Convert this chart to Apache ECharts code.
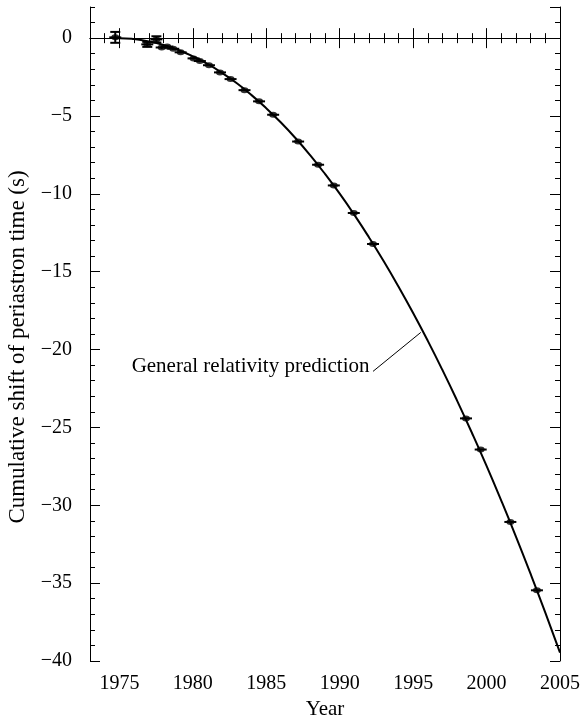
<!DOCTYPE html>
<html>
<head>
<meta charset="utf-8">
<script src="https://cdn.jsdelivr.net/npm/echarts@6/dist/echarts.min.js"></script>
<style>
  html, body { margin: 0; padding: 0; background: #fff; }
  #main { width: 582px; height: 720px; }
</style>
</head>
<body>
<div id="main"></div>
<script>
// observed periastron shift (year, seconds, vertical error)
const obsYear  = [1974.72, 1976.9, 1977.52, 1977.88, 1978.26, 1978.67, 1979.17, 1980.05, 1980.48, 1981.1, 1981.85, 1982.57, 1983.52, 1984.51, 1985.47, 1987.17, 1988.53, 1989.6, 1990.96, 1992.27, 1998.6, 1999.6, 2001.62, 2003.43];
const obsShift = [0.05, -0.4, -0.08, -0.6, -0.54, -0.68, -0.91, -1.3, -1.47, -1.74, -2.2, -2.63, -3.34, -4.06, -4.92, -6.64, -8.13, -9.46, -11.23, -13.22, -24.42, -26.42, -31.07, -35.46];
const obsErr   = [0.35, 0.16, 0.2, 0.1, 0.1, 0.08, 0.06, 0.06, 0.05, 0.05, 0.05, 0.04, 0.04, 0.04, 0.04, 0.04, 0.04, 0.04, 0.04, 0.04, 0.04, 0.04, 0.04, 0.04];

// general relativity prediction
const grYear  = [1974.8, 1975, 1976, 1977, 1978, 1979, 1980, 1981, 1982, 1983, 1984, 1985, 1986, 1987, 1988, 1989, 1990, 1991, 1992, 1993, 1994, 1995, 1996, 1997, 1998, 1999, 2000, 2001, 2002, 2003, 2004, 2005];
const grShift = [0, 0, -0.06, -0.21, -0.44, -0.76, -1.17, -1.66, -2.24, -2.9, -3.66, -4.5, -5.42, -6.43, -7.53, -8.72, -9.99, -11.35, -12.8, -14.33, -15.95, -17.65, -19.44, -21.32, -23.29, -25.34, -27.47, -29.7, -32.01, -34.41, -36.89, -39.46];

// leader line of the annotation
const noteYear  = [1992.27, 1995.52];
const noteShift = [-21.4, -18.9];
const noteText = 'General relativity prediction';

const FONT = 'Liberation Serif';
const minus = v => (v < 0 ? '\u2212' + Math.abs(v) : String(v));

function xAx(pos, major) {
  return {
    type: 'value', position: pos, min: 1973, max: 2005,
    interval: major ? undefined : 1,
    axisLine: { show: major, lineStyle: { color: '#000', width: 1 } },
    axisTick: { inside: true, length: major ? 10 : 5, lineStyle: { color: '#000' } },
    axisLabel: {
      show: major && pos === 'bottom', showMinLabel: false,
      color: '#000', fontFamily: FONT, fontSize: 20, margin: 13,
      formatter: v => String(v)
    },
    splitLine: { show: false }
  };
}
function yAx(pos, major) {
  return {
    type: 'value', position: pos, min: -40, max: 2,
    interval: major ? 5 : 1,
    axisLine: { show: major, lineStyle: { color: '#000', width: 1 } },
    axisTick: { inside: true, length: major ? 10 : 5, lineStyle: { color: '#000' } },
    axisLabel: {
      show: major && pos === 'left', showMaxLabel: false,
      color: '#000', fontFamily: FONT, fontSize: 20, margin: 18,
      formatter: minus
    },
    splitLine: { show: false }
  };
}

const xAxes = [xAx('bottom', true), xAx('bottom', false), xAx('top', true), xAx('top', false)];
xAxes[0].name = 'Year';
xAxes[0].nameLocation = 'middle';
xAxes[0].nameGap = 37;
xAxes[0].nameTextStyle = { color: '#000', fontFamily: FONT, fontSize: 21 };

const yAxes = [yAx('left', true), yAx('left', false), yAx('right', true), yAx('right', false)];
yAxes[0].name = 'Cumulative shift of periastron time (s)';
yAxes[0].nameLocation = 'middle';
yAxes[0].nameGap = 59;
yAxes[0].nameTextStyle = { color: '#000', fontFamily: FONT, fontSize: 23, padding: [0, 26, 0, 0] };

const chart = echarts.init(document.getElementById('main'));
chart.setOption({
  animation: false,
  grid: { left: 90, right: 22, top: 7, bottom: 59, containLabel: false, outerBoundsMode: 'none' },
  xAxis: xAxes,
  yAxis: yAxes,
  series: [
    {
      name: 'GR prediction',
      type: 'line',
      data: grYear.map((y, i) => [y, grShift[i]]),
      smooth: true,
      showSymbol: false,
      lineStyle: { color: '#000', width: 2 },
      markLine: {
        silent: true, symbol: 'none', label: { show: false },
        lineStyle: { color: '#000', width: 1, type: 'solid' },
        data: [{ yAxis: 0 }]
      }
    },
    {
      name: 'note',
      type: 'line',
      data: noteYear.map((y, i) => [y, noteShift[i]]),
      showSymbol: false,
      lineStyle: { color: '#000', width: 1 },
      markPoint: {
        symbol: 'circle',
        symbolSize: 1,
        itemStyle: { color: 'rgba(0,0,0,0)' },
        data: [{ coord: [noteYear[0], noteShift[0]] }],
        label: {
          show: true, position: 'left', distance: 3, offset: [0, -5],
          formatter: noteText, color: '#000', fontFamily: FONT, fontSize: 21
        }
      }
    },
    {
      name: 'error bars',
      type: 'custom',
      data: obsYear.map((y, i) => [y, obsShift[i], obsErr[i]]),
      renderItem(params, api) {
        const x = api.value(0), y = api.value(1), e = api.value(2);
        const c = api.coord([x, y]);
        const hi = api.coord([x, y + e]);
        const lo = api.coord([x, y - e]);
        const st = { stroke: '#000', lineWidth: 2 };
        const kids = [
          { type: 'line', shape: { x1: c[0] - 6, y1: c[1], x2: c[0] + 6, y2: c[1] }, style: st },
          { type: 'line', shape: { x1: c[0], y1: hi[1], x2: c[0], y2: lo[1] }, style: st }
        ];
        if (e > 0.1) {
          kids.push({ type: 'line', shape: { x1: c[0] - 5, y1: hi[1], x2: c[0] + 5, y2: hi[1] }, style: st });
          kids.push({ type: 'line', shape: { x1: c[0] - 5, y1: lo[1], x2: c[0] + 5, y2: lo[1] }, style: st });
        }
        return { type: 'group', children: kids };
      }
    },
    {
      name: 'observed',
      type: 'scatter',
      data: obsYear.map((y, i) => [y, obsShift[i]]),
      symbol: 'circle',
      symbolSize: [8, 6],
      itemStyle: { color: '#000' }
    }
  ]
});
</script>
</body>
</html>
